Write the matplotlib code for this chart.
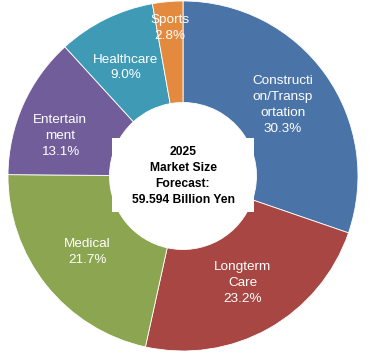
import numpy as np
import matplotlib
matplotlib.use('Agg')
import matplotlib.pyplot as plt
from matplotlib.patches import Rectangle

# market share by segment, 2025 forecast (clockwise from 12 o'clock)
segments = ['Constructi\non/Transp\nortation', 'Longterm\nCare', 'Medical',
            'Entertain\nment', 'Healthcare', 'Sports']
shares = [30.3, 23.2, 21.7, 13.1, 9.0, 2.8]
center_lines = ['2025', 'Market Size', 'Forecast:', '59.594 Billion Yen']

colors = ['#4A74A8', '#A84643', '#8BA550', '#715D9A', '#3F9BB5', '#E38A3E']
# where each label sits inside its wedge (radius, angle nudge in degrees)
label_r = [0.70, 0.70, 0.70, 0.74, 0.70, 0.85]
label_dtheta = [0, 0, 0, 6, 1.5, 0]


def plot_donut(output_file='out.png'):
    fig = plt.figure(figsize=(3.73, 3.54), dpi=100)
    ax = fig.add_axes([0, 0, 1, 1])

    wedges, _ = ax.pie(shares, colors=colors, startangle=90, counterclock=False,
                       radius=1.0, wedgeprops=dict(width=0.58, edgecolor='white', linewidth=0.6))

    for w, name, pct, r, dt in zip(wedges, segments, shares, label_r, label_dtheta):
        ang = np.deg2rad((w.theta1 + w.theta2) / 2 + dt)
        ax.text(r * np.cos(ang), r * np.sin(ang), '%s\n%.1f%%' % (name, pct),
                ha='center', va='center', color='white', fontsize=9.7,
                family='Liberation Sans', linespacing=1.42)

    # white box in the hole
    ax.add_patch(Rectangle((-0.406, -0.206), 0.812, 0.423, facecolor='white', edgecolor='none', zorder=3))
    ax.text(0, 0.0, '\n'.join(center_lines), ha='center', va='center', fontsize=8.7,
            fontweight='bold', family='Liberation Sans', linespacing=1.45, zorder=4)

    ax.set_xlim(-183 / 175, (373 - 183) / 175)
    ax.set_ylim(-(354 - 176) / 175, 176 / 175)
    ax.set_aspect('equal')
    ax.axis('off')

    fig.savefig(output_file, dpi=100)


if __name__ == '__main__':
    plot_donut()
